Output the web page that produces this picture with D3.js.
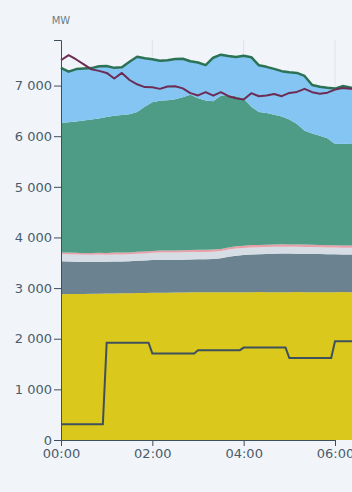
<!DOCTYPE html>
<html>
<head>
<meta charset="utf-8">
<script src="https://cdn.jsdelivr.net/npm/d3@7"></script>
<style>
  html, body { margin: 0; padding: 0; background: #f1f5f9; overflow: hidden; }
  .axis text { font-family: "DejaVu Sans", sans-serif; font-size: 13px; fill: #4b5b6b; }
  .axis path, .axis line { stroke: #3e4f5c; }
</style>
</head>
<body>
<div id="chart"></div>
<script>
// 10-minute readings from 00:00 to 06:30 (MW)
const nuclear = [2880,2882,2884,2885,2887,2890,2892,2894,2896,2899,2901,2904,2906,2908,2910,2912,2914,2916,2917,2918,
  2918,2919,2920,2920,2919,2920,2921,2920,2920,2919,2920,2921,2920,2920,2919,2920,2920,2921,2920,2920]
const hydro = [650,643,636,630,628,630,628,631,629,631,639,641,649,652,650,648,646,649,653,652,
  657,671,700,720,736,745,749,755,760,764,763,759,758,756,753,750,748,744,743,743]
const thermal = [145,144,143,143,142,142,141,141,140,140,140,140,141,142,143,145,146,146,145,144,
  143,142,140,140,139,138,138,137,137,136,136,135,135,134,134,133,133,132,132,132]
const other = [30,32,33,32,34,35,34,36,36,35,37,38,37,39,38,40,41,40,42,41,
  43,42,44,45,44,46,45,44,46,45,44,45,46,45,44,45,46,44,45,45]
const wind = [2560,2574,2594,2620,2639,2653,2685,2703,2719,2730,2763,2857,2937,2959,2969,2985,3023,3069,2993,2950,
  2929,3026,3011,2965,2902,2731,2627,2604,2562,2526,2467,2380,2251,2200,2160,2112,1998,2009,2005,2005]
const solar = [1085,1000,1035,1025,1015,1030,1005,945,940,1035,1090,960,850,790,790,795,760,660,705,700,
  860,810,770,775,850,980,920,910,905,895,935,1010,1080,955,965,995,1095,1140,1115,1105]
const consumption = [7500,7600,7515,7420,7320,7290,7250,7140,7250,7110,7025,6970,6965,6935,6980,6985,6945,6850,6805,6870,
  6800,6870,6790,6750,6725,6850,6790,6805,6835,6790,6855,6875,6935,6870,6840,6860,6920,6950,6935,6945]
// hourly values, constant within each hour
const exchangeHours = [0,1,2,3,4,5,6]
const exchange = [310,1920,1710,1775,1825,1620,1950]
const xTicks = ["00:00","02:00","04:00","06:00"]
const keys = ["nuclear","hydro","thermal","other","wind","solar"]
const colors = ["#dbc81c","#6b8290","#d6dde4","#e8a1a9","#4e9b86","#84c5f4"]

const width = 352, height = 492
const margin = {top: 40, right: 17, bottom: 52, left: 61}

const t0 = Date.UTC(2024, 0, 1)
const timeAt = i => new Date(t0 + i * 10 * 60000)
const parseHM = s => new Date(t0 + (+s.slice(0,2) * 60 + +s.slice(3)) * 60000)

const rows = nuclear.map((d, i) => ({
  time: timeAt(i), nuclear: d, hydro: hydro[i], thermal: thermal[i],
  other: other[i], wind: wind[i], solar: solar[i], consumption: consumption[i]
}))

const exchangePts = []
exchangeHours.forEach((h, i) => {
  exchangePts.push({time: new Date(t0 + h * 3600000), value: exchange[i]})
  exchangePts.push({time: new Date(t0 + (h * 60 + 55) * 60000), value: exchange[i]})
})

const xScale = d3.scaleUtc()
  .domain([parseHM("00:00"), parseHM("06:00")])
  .range([margin.left, width - margin.right])
const yScale = d3.scaleLinear()
  .domain([0, 7900])
  .range([height - margin.bottom, margin.top])

const svg = d3.select("#chart").append("svg")
  .attr("width", width)
  .attr("height", height)

// grid
svg.append("g")
  .selectAll("line")
  .data(xTicks.slice(1))
  .join("line")
  .attr("x1", d => xScale(parseHM(d)))
  .attr("x2", d => xScale(parseHM(d)))
  .attr("y1", margin.top)
  .attr("y2", height - margin.bottom)
  .attr("stroke", "#dfe4e9")
  .attr("stroke-width", 1)

const stack = d3.stack().keys(keys)
const series = stack(rows)

const area = d3.area()
  .x(d => xScale(d.data.time))
  .y0(d => yScale(d[0]))
  .y1(d => yScale(d[1]))

svg.append("g")
  .selectAll("path")
  .data(series)
  .join("path")
  .attr("fill", (d, i) => colors[i])
  .attr("d", area)

const totalLine = d3.line()
  .x(d => xScale(d.data.time))
  .y(d => yScale(d[1]))

svg.append("path")
  .datum(series[series.length - 1])
  .attr("fill", "none")
  .attr("stroke", "#2c7356")
  .attr("stroke-width", 2.5)
  .attr("stroke-linejoin", "round")
  .attr("d", totalLine)

svg.append("path")
  .datum(rows)
  .attr("fill", "none")
  .attr("stroke", "#6d2c54")
  .attr("stroke-width", 2)
  .attr("stroke-linejoin", "round")
  .attr("d", d3.line().x(d => xScale(d.time)).y(d => yScale(d.consumption)))

svg.append("path")
  .datum(exchangePts)
  .attr("fill", "none")
  .attr("stroke", "#3f505d")
  .attr("stroke-width", 2)
  .attr("d", d3.line().x(d => xScale(d.time)).y(d => yScale(d.value)))

// axes
svg.append("g")
  .attr("class", "axis")
  .attr("transform", `translate(${margin.left},0)`)
  .call(d3.axisLeft(yScale)
    .tickValues([0,1000,2000,3000,4000,5000,6000,7000])
    .tickFormat(d => d3.format(",")(d).replace(/,/g, " "))
    .tickSize(7).tickPadding(2))

svg.append("g")
  .attr("class", "axis")
  .attr("transform", `translate(0,${height - margin.bottom})`)
  .call(d3.axisBottom(xScale)
    .tickValues(xTicks.map(parseHM))
    .tickFormat(d3.utcFormat("%H:%M"))
    .tickSize(6).tickPadding(3).tickSizeOuter(0))

svg.append("text")
  .attr("x", margin.left)
  .attr("y", 24)
  .attr("text-anchor", "middle")
  .style("font", "10px 'DejaVu Sans', sans-serif")
  .attr("fill", "#6b7b8a")
  .text("MW")
</script>
</body>
</html>
